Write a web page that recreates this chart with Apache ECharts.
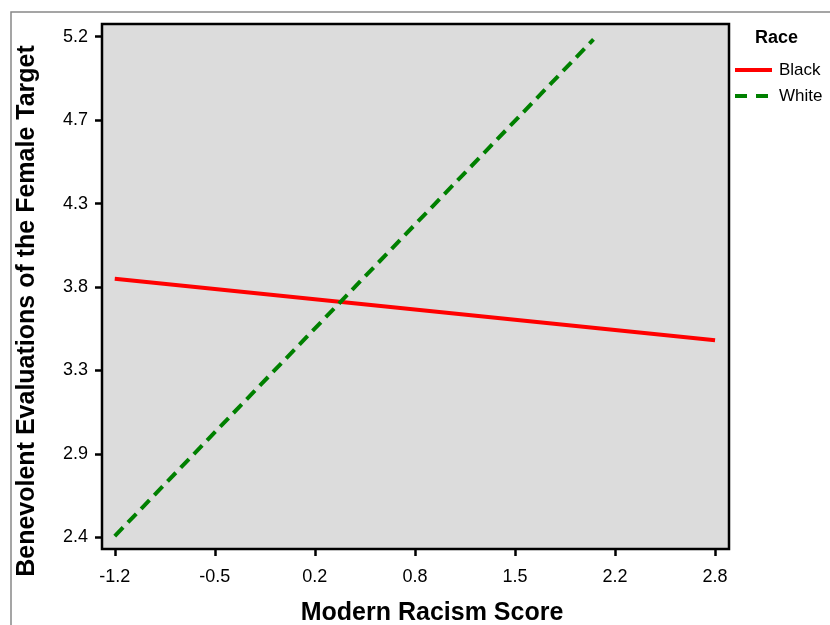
<!DOCTYPE html>
<html>
<head>
<meta charset="utf-8">
<script src="https://cdn.jsdelivr.net/npm/echarts@6/dist/echarts.min.js"></script>
<style>
html,body{margin:0;padding:0;background:#fff;}
#c{width:830px;height:625px;}
</style>
</head>
<body>
<div id="c"></div>
<script>
// Tick positions (axis units) and their printed labels
var xTickValues = [-1.17, -0.5033, 0.1633, 0.83, 1.4967, 2.1633, 2.83];
var xTickLabels = ['-1.2', '-0.5', '0.2', '0.8', '1.5', '2.2', '2.8'];
var yTickValues = [2.4, 2.8667, 3.3333, 3.8, 4.2667, 4.7333, 5.2];
var yTickLabels = ['2.4', '2.9', '3.3', '3.8', '4.3', '4.7', '5.2'];

// Series (Modern Racism Score -> Benevolent Evaluations)
var seriesNames = ['Black', 'White'];
var blackX = [-1.17, 2.83];
var blackY = [3.846, 3.502];
var whiteX = [-1.17, 2.02];
var whiteY = [2.407, 5.185];

function pairs(xs, ys){ return xs.map(function(x,i){ return [x, ys[i]]; }); }
function labelFor(vals, labs){
  return function(v){
    var best = 0, d = Infinity;
    for (var i=0;i<vals.length;i++){ var dd=Math.abs(vals[i]-v); if(dd<d){d=dd;best=i;} }
    return labs[best];
  };
}

var FONT = 'Liberation Sans, Arial, sans-serif';
var chart = echarts.init(document.getElementById('c'), null, {renderer:'canvas'});
chart.setOption({
  animation: false,
  backgroundColor: '#ffffff',
  grid: {
    left: 102, right: 101, top: 24, bottom: 76,
    show: true, backgroundColor: '#dcdcdc', borderColor: '#000', borderWidth: 2.5
  },
  xAxis: {
    type: 'value', min: -1.255, max: 2.923,
    axisLine: {show: false, onZero: false},
    splitLine: {show: false},
    axisTick: {show: true, customValues: xTickValues, length: 7, lineStyle: {color:'#000', width: 2.5}},
    axisLabel: {customValues: xTickValues, formatter: labelFor(xTickValues, xTickLabels),
      margin: 19, color: '#000', fontSize: 18, fontFamily: FONT}
  },
  yAxis: {
    type: 'value', min: 2.335, max: 5.271,
    axisLine: {show: false, onZero: false},
    splitLine: {show: false},
    axisTick: {show: true, customValues: yTickValues, length: 7, lineStyle: {color:'#000', width: 2.5}},
    axisLabel: {customValues: yTickValues, formatter: labelFor(yTickValues, yTickLabels),
      margin: 14, color: '#000', fontSize: 18, fontFamily: FONT}
  },
  series: [
    {name: seriesNames[0], type: 'line', data: pairs(blackX, blackY), symbol: 'none',
      lineStyle: {color: '#ff0000', width: 4}, itemStyle: {color: '#ff0000'}},
    {name: seriesNames[1], type: 'line', data: pairs(whiteX, whiteY), symbol: 'none',
      lineStyle: {color: '#008000', width: 4, type: [12, 7]}, itemStyle: {color: '#008000'}}
  ],
  graphic: [
    {type: 'rect', shape: {x: 11, y: 12, width: 900, height: 800},
      style: {fill: 'none', stroke: '#888', lineWidth: 1.5}, silent: true, z: -1},
    {type: 'text', x: 755, y: 38,
      style: {text: 'Race', fill: '#000', font: 'bold 18px ' + FONT, textVerticalAlign: 'middle'}},
    {type: 'line', shape: {x1: 735, y1: 70, x2: 772, y2: 70},
      style: {stroke: '#ff0000', lineWidth: 4}},
    {type: 'text', x: 779, y: 70,
      style: {text: seriesNames[0], fill: '#000', font: '17px ' + FONT, textVerticalAlign: 'middle'}},
    {type: 'line', shape: {x1: 735, y1: 96, x2: 768, y2: 96},
      style: {stroke: '#008000', lineWidth: 4, lineDash: [12, 9]}},
    {type: 'text', x: 779, y: 96,
      style: {text: seriesNames[1], fill: '#000', font: '17px ' + FONT, textVerticalAlign: 'middle'}},
    {type: 'text', x: 432, y: 613,
      style: {text: 'Modern Racism Score', fill: '#000', font: 'bold 25px ' + FONT,
        textAlign: 'center', textVerticalAlign: 'middle'}},
    {type: 'text', x: 27, y: 311, rotation: Math.PI/2,
      style: {text: 'Benevolent Evaluations of the Female Target', fill: '#000', font: 'bold 25px ' + FONT,
        textAlign: 'center', textVerticalAlign: 'middle'}}
  ]
});
</script>
</body>
</html>
